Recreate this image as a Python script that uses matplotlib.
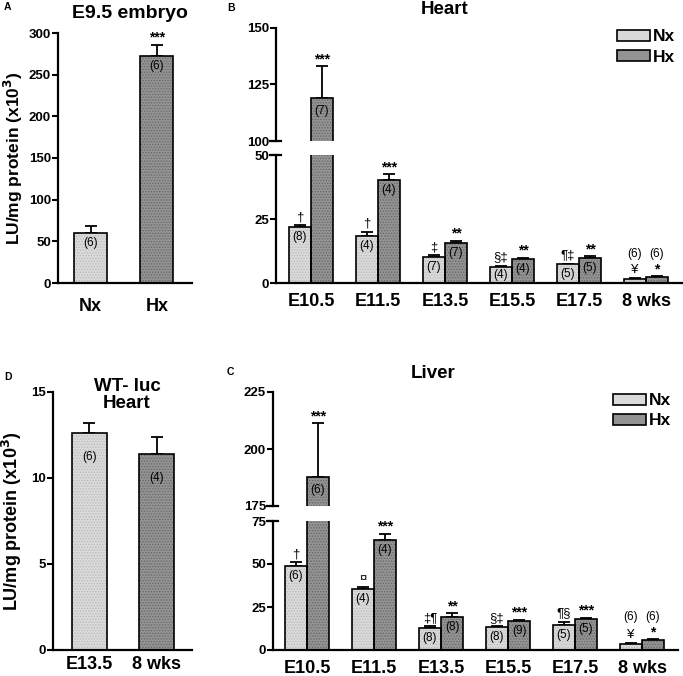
import numpy as np
import matplotlib
matplotlib.use("Agg")
import matplotlib.pyplot as plt

plt.rcParams['font.family'] = ['Liberation Sans', 'DejaVu Sans']
plt.rcParams['hatch.linewidth'] = 0.6

# ---- data ----
# A: E9.5 embryo
a_groups = ['Nx', 'Hx']
a_vals = [60.5, 272]
a_err = [8, 14]
a_n = ['(6)', '(6)']
a_sig = ['', '***']

# B: heart
stages = ['E10.5', 'E11.5', 'E13.5', 'E15.5', 'E17.5', '8 wks']
b_nx = [21.7, 18.3, 10.3, 6.4, 7.3, 1.7]
b_nx_err = [0.9, 1.6, 0.5, 0.4, 0.3, 0.3]
b_hx = [119.2, 40.1, 15.6, 9.2, 9.9, 2.3]
b_hx_err = [13.8, 2.4, 1.0, 0.7, 0.6, 0.3]
b_nx_n = ['(8)', '(4)', '(7)', '(4)', '(5)', '(6)']
b_hx_n = ['(7)', '(4)', '(7)', '(4)', '(5)', '(6)']
b_nx_sig = ['\u2020', '\u2020', '\u2021', '\u00a7\u2021', '\u00b6\u2021', '\u00a5']
b_hx_sig = ['***', '***', '**', '**', '**', '*']

# C: liver
c_nx = [49.0, 35.2, 12.6, 13.4, 14.8, 3.7]
c_nx_err = [2.0, 1.2, 1.2, 0.4, 1.7, 0.6]
c_hx = [187.9, 63.8, 19.3, 17.1, 18.3, 5.6]
c_hx_err = [23.3, 3.7, 2.1, 0.4, 0.4, 0.6]
c_nx_n = ['(6)', '(4)', '(8)', '(8)', '(5)', '(6)']
c_hx_n = ['(6)', '(4)', '(8)', '(9)', '(5)', '(6)']
c_nx_sig = ['\u2020', '\u00a4', '\u2021\u00b6', '\u00a7\u2021', '\u00b6\u00a7', '\u00a5']
c_hx_sig = ['***', '***', '**', '***', '***', '*']

# D: WT-luc heart
d_groups = ['E13.5', '8 wks']
d_vals = [12.6, 11.4]
d_err = [0.6, 1.0]
d_n = ['(6)', '(4)']

NX_COLOR = '#dadada'
NX_DOTS = '#b8b8b8'
HX_COLOR = '#939393'
HX_DOTS = '#666666'

W, H = 683, 676
fig = plt.figure(figsize=(W / 100, H / 100), dpi=100)


def box(l, r, b, t):
    return [l / W, 1 - b / H, (r - l) / W, (b - t) / H]


def style(ax, show_bottom=True, xpad=7):
    for s in ['top', 'right']:
        ax.spines[s].set_visible(False)
    ax.spines['left'].set_linewidth(1.6)
    ax.spines['bottom'].set_linewidth(1.6)
    ax.spines['bottom'].set_visible(show_bottom)
    ax.tick_params(axis='y', direction='out', length=4, width=1.5, pad=1,
                   labelsize=9.5)
    for lab in ax.get_yticklabels():
        lab.set_fontweight('bold')
    ax.tick_params(axis='x', length=0, labelsize=13, pad=xpad)
    ax.patch.set_alpha(0)


def bars(ax, x, vals, errs, color, dots, width):
    ax.bar(x, vals, width, color=color, edgecolor=dots, linewidth=0,
           hatch='......', zorder=2)
    ax.bar(x, vals, width, fill=False, edgecolor='black', linewidth=1.2,
           zorder=3)
    ax.errorbar(x, vals, yerr=[np.zeros(len(vals)), errs], fmt='none',
                ecolor='black', elinewidth=1.3, capsize=4, capthick=1.3,
                zorder=1)


def n_label(ax, x, v, text, px_per_unit):
    # inside the bar near its top, or centred for short bars
    h_px = v * px_per_unit
    off = min(10, h_px / 2) * 0.72
    ax.annotate(text, (x, v), xytext=(0, -off), textcoords='offset points',
                ha='center', va='center', fontsize=8.5, annotation_clip=False)


def sig_label(ax, x, top, text):
    if '*' in text:
        ax.annotate(text, (x, top), xytext=(0, 0), textcoords='offset points',
                    ha='center', va='bottom', fontsize=10, fontweight='bold',
                    annotation_clip=False)
    else:
        ax.annotate(text, (x, top), xytext=(0, 1.5), textcoords='offset points',
                    ha='center', va='bottom', fontsize=9.5,
                    annotation_clip=False)


# ---------- Panel A ----------
axA = fig.add_axes(box(58, 192, 283, 33))
xa = np.arange(2)
bars(axA, xa, a_vals, a_err, [NX_COLOR, HX_COLOR], [NX_DOTS, HX_DOTS], 0.5)
axA.set_xlim(-0.49, 1.53)
axA.set_ylim(0, 300)
axA.set_yticks([0, 50, 100, 150, 200, 250, 300])
axA.set_xticks(xa)
axA.set_xticklabels(a_groups, fontweight='bold')
style(axA, xpad=11)
pxA = 250 / 300
for i in range(2):
    n_label(axA, xa[i], a_vals[i], a_n[i], pxA)
    if a_sig[i]:
        sig_label(axA, xa[i], a_vals[i] + a_err[i], a_sig[i])
axA.set_ylabel('LU/mg protein (x10$^\\mathbf{3}$)', fontsize=12.5,
               fontweight='bold', labelpad=3)
fig.text(130 / W, 1 - 13 / H, 'E9.5 embryo', ha='center', va='center',
         fontsize=14, fontweight='bold')
fig.text(4 / W, 1 - 7 / H, 'A', ha='left', va='center', fontsize=7.5,
         fontweight='bold')

# ---------- Panel D ----------
axD = fig.add_axes(box(53, 192, 650, 392))
xd = np.arange(2)
bars(axD, xd, d_vals, d_err, [NX_COLOR, HX_COLOR], [NX_DOTS, HX_DOTS], 0.52)
axD.set_xlim(-0.54, 1.52)
axD.set_ylim(0, 15)
axD.set_yticks([0, 5, 10, 15])
axD.set_xticks(xd)
axD.set_xticklabels(d_groups, fontweight='bold')
style(axD, xpad=4)
for i in range(2):
    axD.annotate(d_n[i], (xd[i], d_vals[i]), xytext=(0, -17),
                 textcoords='offset points', ha='center', va='center',
                 fontsize=8.5)
axD.set_ylabel('LU/mg protein (x10$^\\mathbf{3}$)', fontsize=13,
               fontweight='bold', labelpad=5)
fig.text(127 / W, 1 - 395 / H, 'WT- luc\nHeart', ha='center', va='center',
         fontsize=13.5, fontweight='bold', linespacing=1.0)
fig.text(4 / W, 1 - 377 / H, 'D', ha='left', va='center', fontsize=7.5,
         fontweight='bold')


# ---------- broken panels B and C ----------
def broken_panel(l, r, b_low, t_low, b_up, t_up, lo_lim, up_lim, lo_ticks,
                 up_ticks, nx, nx_err, hx, hx_err, nx_n, hx_n, nx_sig, hx_sig,
                 x0):
    ax_lo = fig.add_axes(box(l, r, b_low, t_low))
    ax_up = fig.add_axes(box(l, r, b_up, t_up))
    x = np.arange(len(stages))
    w = 0.33
    px_lo = (b_low - t_low) / (lo_lim[1] - lo_lim[0])
    px_up = (b_up - t_up) / (up_lim[1] - up_lim[0])
    spacing = 67.0
    xmin = (l - x0) / spacing
    xmax = (r - x0) / spacing
    for ax, lim, ticks in [(ax_lo, lo_lim, lo_ticks), (ax_up, up_lim, up_ticks)]:
        bars(ax, x - w / 2, nx, nx_err, NX_COLOR, NX_DOTS, w)
        bars(ax, x + w / 2, hx, hx_err, HX_COLOR, HX_DOTS, w)
        ax.set_xlim(xmin, xmax)
        ax.set_ylim(*lim)
        ax.set_yticks(ticks)
    ax_lo.set_xticks(x)
    ax_lo.set_xticklabels(stages, fontweight='bold')
    ax_up.set_xticks([])
    style(ax_lo)
    style(ax_up, show_bottom=False)
    # break marks on the spine
    dx = 4.5 / (r - l)
    ax_lo.plot([-dx * 1.3, dx], [1, 1], transform=ax_lo.transAxes, color='black',
               lw=1.6, clip_on=False)
    ax_up.plot([-dx * 1.3, dx], [0, 0], transform=ax_up.transAxes, color='black',
               lw=1.6, clip_on=False)

    last = len(stages) - 1
    for xs, vals, errs, ns, sigs in [(x - w / 2, nx, nx_err, nx_n, nx_sig),
                                     (x + w / 2, hx, hx_err, hx_n, hx_sig)]:
        for i in range(len(stages)):
            v = vals[i]
            ax = ax_up if v > lo_lim[1] else ax_lo
            pp = px_up if v > lo_lim[1] else px_lo
            if i == last:
                # group sizes sit above the short adult bars, level with each other
                top = max(nx[i] + nx_err[i], hx[i] + hx_err[i])
                ax.annotate(ns[i], (xs[i], top), xytext=(0, 12),
                            textcoords='offset points', ha='center',
                            va='bottom', fontsize=8.5, annotation_clip=False)
            elif ax is ax_up:
                ax.annotate(ns[i], (xs[i], v), xytext=(0, -10),
                            textcoords='offset points', ha='center',
                            va='center', fontsize=8.5)
            else:
                n_label(ax, xs[i], v, ns[i], pp)
            sig_label(ax, xs[i], v + errs[i], sigs[i])

    ax_up.legend(handles=[plt.Rectangle((0, 0), 1, 1, facecolor=NX_COLOR,
                                        edgecolor='black', lw=1.2),
                          plt.Rectangle((0, 0), 1, 1, facecolor=HX_COLOR,
                                        edgecolor='black', lw=1.2)],
                 labels=['Nx', 'Hx'], loc='upper right',
                 bbox_to_anchor=(1.0, 1.05), frameon=False,
                 prop={'weight': 'bold', 'size': 12.5}, handlelength=1.9,
                 handleheight=0.6, handletextpad=0.15, labelspacing=0.3,
                 borderaxespad=0.0)
    return ax_lo, ax_up


broken_panel(276, 682, 283, 155, 141, 28, (0, 50), (100, 150), [0, 25, 50],
             [100, 125, 150], b_nx, b_nx_err, b_hx, b_hx_err, b_nx_n, b_hx_n,
             b_nx_sig, b_hx_sig, 311)
fig.text(445 / W, 1 - 9 / H, 'Heart', ha='center', va='center',
         fontsize=13.5, fontweight='bold')
fig.text(227 / W, 1 - 8 / H, 'B', ha='left', va='center', fontsize=7.5,
         fontweight='bold')

broken_panel(273, 678, 650, 521, 506, 392, (0, 75), (175, 225), [0, 25, 50, 75],
             [175, 200, 225], c_nx, c_nx_err, c_hx, c_hx_err, c_nx_n, c_hx_n,
             c_nx_sig, c_hx_sig, 307)
fig.text(433 / W, 1 - 373 / H, 'Liver', ha='center', va='center',
         fontsize=13.5, fontweight='bold')
fig.text(227 / W, 1 - 372 / H, 'C', ha='left', va='center', fontsize=7.5,
         fontweight='bold')

fig.savefig('out.png', dpi=100)
